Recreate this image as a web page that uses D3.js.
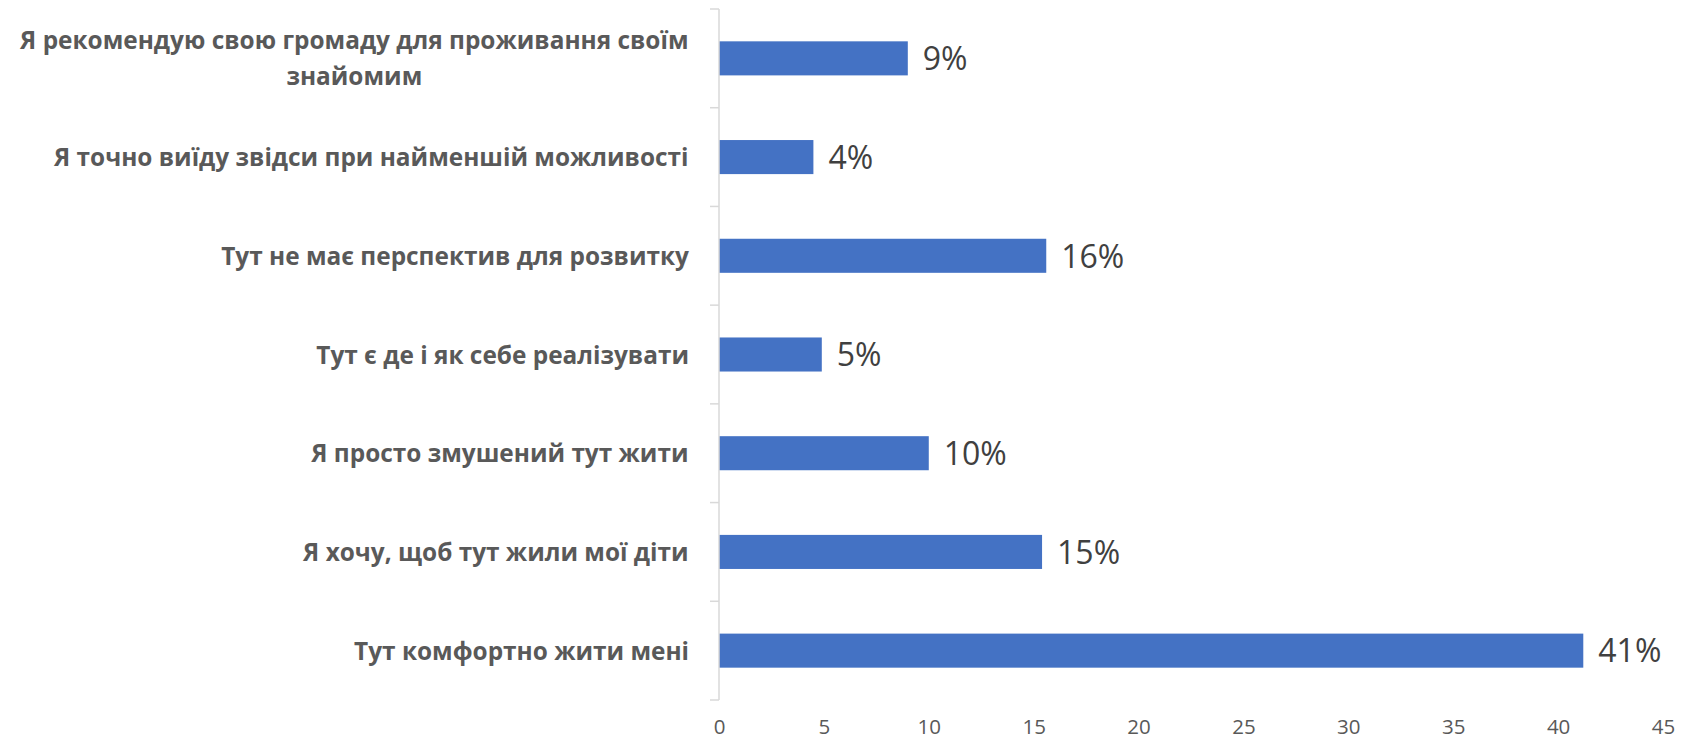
<!DOCTYPE html>
<html>
<head>
<meta charset="utf-8">
<script src="https://cdn.jsdelivr.net/npm/d3@7"></script>
<style>
  body { margin: 0; background: #fff; }
  text { font-family: "Open Sans", sans-serif; }
</style>
</head>
<body>
<div id="chart"></div>
<script>
// --> DATA
var categories = [
    ["Я рекомендую свою громаду для проживання своїм", "знайомим"],
    ["Я точно виїду звідси при найменшій можливості"],
    ["Тут не має перспектив для розвитку"],
    ["Тут є де і як себе реалізувати"],
    ["Я просто змушений тут жити"],
    ["Я хочу, щоб тут жили мої діти"],
    ["Тут комфортно жити мені"]
];
var values = [9.0, 4.5, 15.6, 4.9, 10.0, 15.4, 41.2];
var valueLabels = ["9%", "4%", "16%", "5%", "10%", "15%", "41%"];
var xTicks = [0, 5, 10, 15, 20, 25, 30, 35, 40, 45];

// --> SVG
var width = 1683,
    height = 744;
var margin = { top: 9, right: 20, bottom: 44, left: 719 };

var svg = d3.select("#chart").append("svg")
    .attr("width", width)
    .attr("height", height);

var x = d3.scaleLinear()
    .domain([0, 45])
    .range([margin.left, 1663]);

var y = d3.scaleBand()
    .domain(d3.range(categories.length))
    .range([margin.top, height - margin.bottom])
    .paddingInner(0.655)
    .paddingOuter(0.3275);

// bars
svg.append("g")
    .selectAll("rect")
    .data(values)
    .enter().append("rect")
    .attr("x", x(0))
    .attr("y", function(d, i) { return y(i); })
    .attr("width", function(d) { return x(d) - x(0); })
    .attr("height", y.bandwidth())
    .attr("fill", "#4472C4");

// value labels
svg.append("g")
    .selectAll("text")
    .data(values)
    .enter().append("text")
    .attr("x", function(d) { return x(d) + 15; })
    .attr("y", function(d, i) { return y(i) + y.bandwidth() / 2; })
    .attr("dy", "0.37em")
    .attr("font-size", 32)
    .attr("fill", "#404040")
    .text(function(d, i) { return valueLabels[i]; });

// category axis line + ticks at band boundaries
var step = y.step();
var axisG = svg.append("g").attr("stroke", "#D9D9D9").attr("stroke-width", 1.5);
axisG.append("line")
    .attr("x1", x(0)).attr("x2", x(0))
    .attr("y1", margin.top).attr("y2", height - margin.bottom);
axisG.selectAll(".tk")
    .data(d3.range(categories.length + 1))
    .enter().append("line")
    .attr("class", "tk")
    .attr("x1", x(0) - 9).attr("x2", x(0))
    .attr("y1", function(i) { return margin.top + i * step; })
    .attr("y2", function(i) { return margin.top + i * step; });

// category labels (right-aligned block, lines centred on each other)
var labelG = svg.append("g");
categories.forEach(function(lines, i) {
    var cy = y(i) + y.bandwidth() / 2;
    var lh = 36;
    var t = labelG.append("text")
        .attr("font-size", 24.4)
        .attr("font-weight", 700)
        .attr("fill", "#595959")
        .attr("text-anchor", "middle");
    lines.forEach(function(line, j) {
        t.append("tspan")
            .attr("x", 0)
            .attr("y", cy + (j - (lines.length - 1) / 2) * lh)
            .attr("dy", "0.37em")
            .text(line);
    });
    var w = t.node().getBBox().width;
    t.attr("transform", "translate(" + (689 - w / 2) + ",0)");
});

// value axis (no line)
var xAxis = svg.append("g")
    .attr("transform", "translate(0," + (height - margin.bottom) + ")")
    .call(d3.axisBottom(x).tickValues(xTicks).tickSize(0).tickPadding(19));
xAxis.select(".domain").remove();
xAxis.selectAll("text")
    .attr("font-size", 20.5)
    .attr("fill", "#595959")
    .style("font-family", "'Open Sans', sans-serif");
</script>
</body>
</html>
